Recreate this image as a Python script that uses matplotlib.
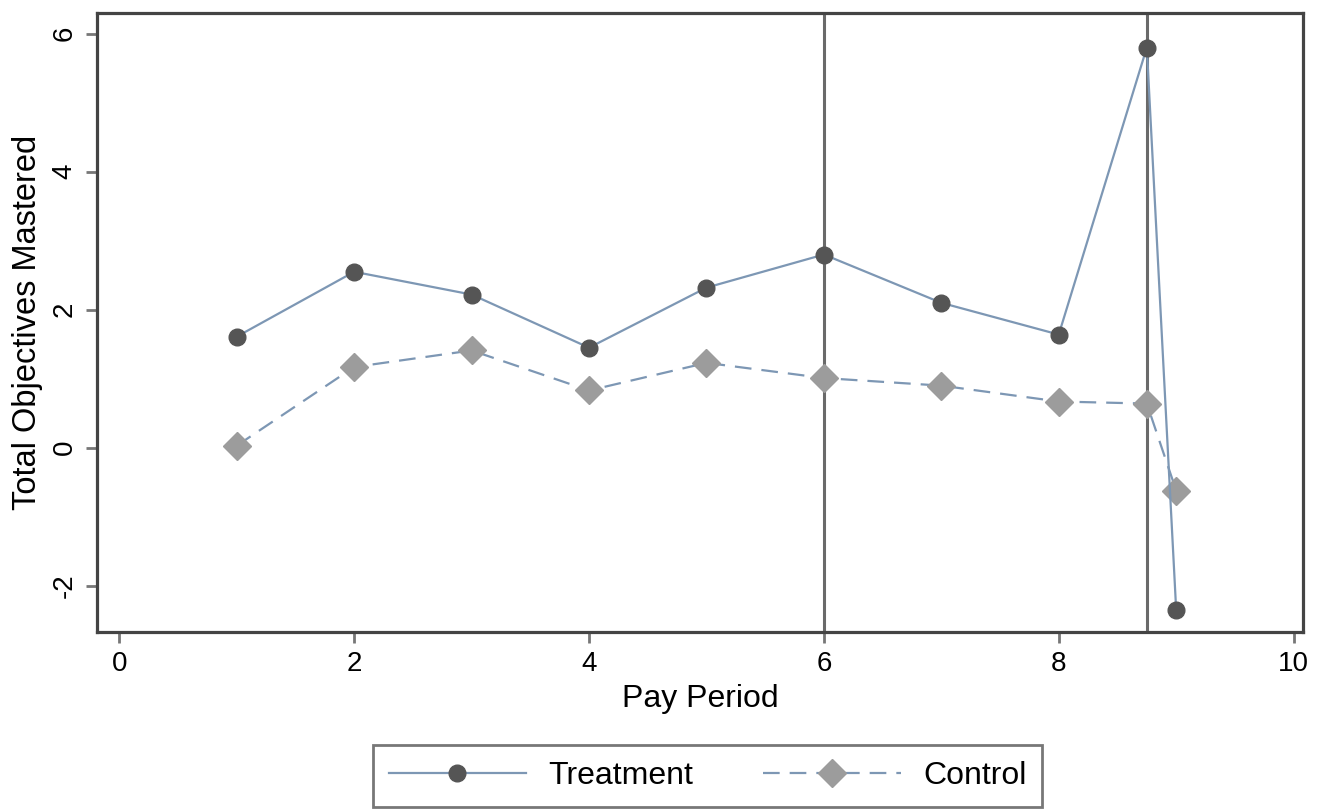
import matplotlib
matplotlib.use("Agg")
import matplotlib.pyplot as plt

plt.rcParams['font.family'] = ['Liberation Sans', 'DejaVu Sans']

# Data
periods = [1, 2, 3, 4, 5, 6, 7, 8, 8.75, 9]
treatment = [1.61, 2.55, 2.22, 1.45, 2.32, 2.80, 2.10, 1.64, 5.80, -2.35]
control = [0.03, 1.17, 1.41, 0.83, 1.23, 1.01, 0.90, 0.67, 0.64, -0.62]
vlines_x = [6, 8.75]
xticks = [0, 2, 4, 6, 8, 10]
yticks = [-2, 0, 2, 4, 6]

line_col = '#7d97b4'
fig = plt.figure(figsize=(13.26, 8.10), dpi=100)
ax = fig.add_axes([97/1326, 1 - 632/810, (1303-97)/1326, (632-13)/810])

for xv in vlines_x:
    ax.axvline(xv, color='#6a6a6a', lw=2.2, zorder=1)

ax.plot(periods, treatment, color=line_col, lw=1.6, marker='o', ms=12,
        mfc='#555555', mec='#555555', zorder=3, label='Treatment')
ax.plot(periods, control, color=line_col, lw=1.6, ls=(0, (7.5, 4.5)), marker='D', ms=14,
        mfc='#9c9c9c', mec='#9c9c9c', zorder=2, label='Control')

ax.set_xlim(-0.19, 10.08)
ax.set_ylim(-2.67, 6.30)
ax.set_xticks(xticks)
ax.set_yticks(yticks)
ax.set_yticklabels([str(v) for v in yticks], rotation=90, va='center')
ax.tick_params(axis='both', labelsize=20, length=8, width=2, color='#777777', pad=6)
for s in ax.spines.values():
    s.set_linewidth(2.3)
    s.set_color('#444444')

ax.set_xlabel('Pay Period', fontsize=23, labelpad=5)
ax.set_ylabel('Total Objectives Mastered', fontsize=23.5, labelpad=6)

leg = fig.legend(loc='center', bbox_to_anchor=(707.5/1326, 34/810), ncol=2,
                 fontsize=23, frameon=True, fancybox=False, handlelength=4.3,
                 handletextpad=0.7, columnspacing=2.2, borderpad=0.5, numpoints=1)
leg.get_frame().set_edgecolor('#555555')
leg.get_frame().set_linewidth(2.0)

fig.savefig('out.png', dpi=100)
